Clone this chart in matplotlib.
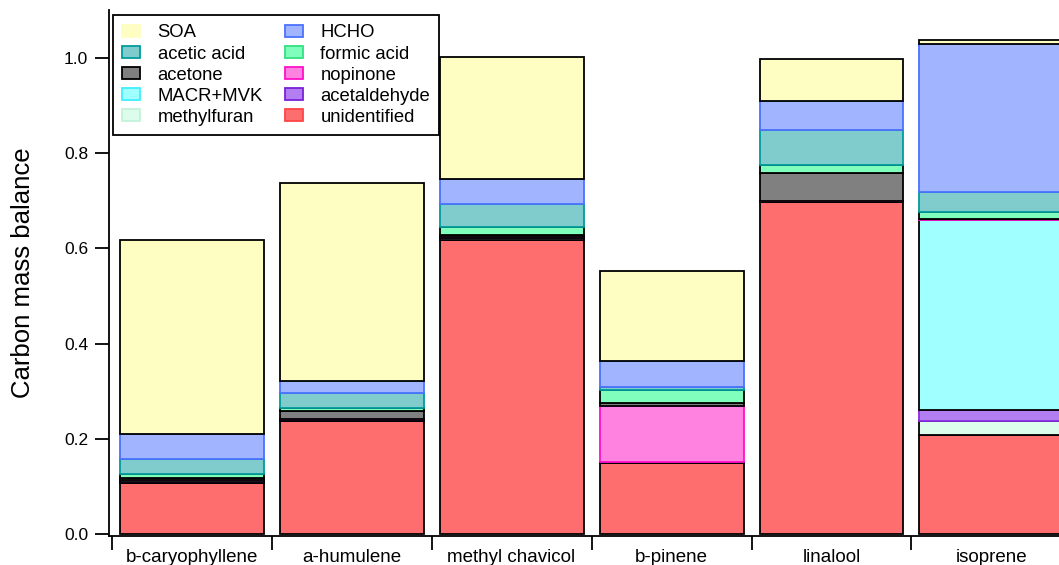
import matplotlib
matplotlib.use("Agg")
import matplotlib.pyplot as plt
from matplotlib.patches import Patch
import numpy as np

plt.rcParams['font.family'] = ['Liberation Sans', 'DejaVu Sans']

categories = ["b-caryophyllene", "a-humulene", "methyl chavicol", "b-pinene", "linalool", "isoprene"]

# stacked from bottom to top
unidentified = [0.107, 0.237, 0.618, 0.150, 0.698, 0.208]
methylfuran  = [0.003, 0.002, 0.003, 0.001, 0.001, 0.030]
acetaldehyde = [0.000, 0.000, 0.000, 0.000, 0.000, 0.022]
macr_mvk     = [0.003, 0.002, 0.003, 0.001, 0.001, 0.400]
nopinone     = [0.000, 0.000, 0.000, 0.118, 0.000, 0.002]
acetone      = [0.005, 0.018, 0.004, 0.006, 0.058, 0.000]
formic_acid  = [0.008, 0.006, 0.018, 0.026, 0.018, 0.014]
acetic_acid  = [0.032, 0.032, 0.048, 0.008, 0.072, 0.042]
hcho         = [0.052, 0.025, 0.052, 0.054, 0.062, 0.312]
soa          = [0.408, 0.415, 0.256, 0.189, 0.088, 0.007]

series = [
    ("unidentified", unidentified, "#FF6E6E", "black", "#FF4545"),
    ("methylfuran", methylfuran, "#DCFCEC", "black", "#C4F2DA"),
    ("acetaldehyde", acetaldehyde, "#B37EF2", "#8A2BE2", "#7A22D8"),
    ("MACR+MVK", macr_mvk, "#A0FFFF", "black", "#40EEFF"),
    ("nopinone", nopinone, "#FF82E0", "#FF10C8", "#FF10C8"),
    ("acetone", acetone, "#808080", "black", "black"),
    ("formic acid", formic_acid, "#80FFBC", "black", "#30E080"),
    ("acetic acid", acetic_acid, "#80CCCC", "#009C9C", "#009C9C"),
    ("HCHO", hcho, "#A0B4FF", "#4A72FF", "#4A72FF"),
    ("SOA", soa, "#FEFEC2", "black", "#FEFEC2"),
]

fig = plt.figure(figsize=(10.59, 5.65), dpi=100)
ax = fig.add_axes([109/1059, 1-536/565, 1-109/1059, (536-10)/565])

x = np.arange(len(categories))
bottom = np.zeros(len(categories))
handles = {}
for name, vals, fc, ec, lec in series:
    vals = np.array(vals)
    ax.bar(x, vals, width=0.9, bottom=bottom, color=fc, edgecolor=ec,
           linewidth=1.3, zorder=2)
    bottom += vals
    handles[name] = Patch(facecolor=fc, edgecolor=lec, linewidth=1.3)

ax.spines['top'].set_visible(False)
ax.spines['right'].set_visible(False)
ax.spines['left'].set_linewidth(1.3)
ax.spines['bottom'].set_linewidth(1.3)

ax.set_yticks([0.0, 0.2, 0.4, 0.6, 0.8, 1.0])
ax.set_yticklabels(["0.0", "0.2", "0.4", "0.6", "0.8", "1.0"])
ax.tick_params(axis='y', direction='out', length=10, width=1.3, labelsize=12.5, pad=5)

ax.set_xticks(np.arange(-0.5, 6.0, 1.0))
ax.set_xticklabels([])
ax.tick_params(axis='x', which='major', direction='out', length=10, width=1.3)
ax.set_xticks(x, minor=True)
ax.set_xticklabels(categories, minor=True)
ax.tick_params(axis='x', which='minor', length=0, labelsize=13.5, pad=9)

ax.set_xlim(-0.516, 5.422)
ax.set_ylim(-0.004, 1.101)

ax.set_ylabel("Carbon mass balance", fontsize=18.5, labelpad=21)

order = ["SOA", "acetic acid", "acetone", "MACR+MVK", "methylfuran",
         "HCHO", "formic acid", "nopinone", "acetaldehyde", "unidentified"]
leg = ax.legend([handles[n] for n in order], order, ncol=2, loc='upper left',
                bbox_to_anchor=(0.004, 0.99), fontsize=13.3, frameon=True,
                fancybox=False, framealpha=1, edgecolor='black',
                handlelength=0.97, handleheight=0.65, handletextpad=0.95,
                columnspacing=1.2, labelspacing=0.22, borderpad=0.5,
                borderaxespad=0)
leg.get_frame().set_linewidth(1.3)
leg.set_zorder(5)

fig.savefig("out.png", dpi=100)
